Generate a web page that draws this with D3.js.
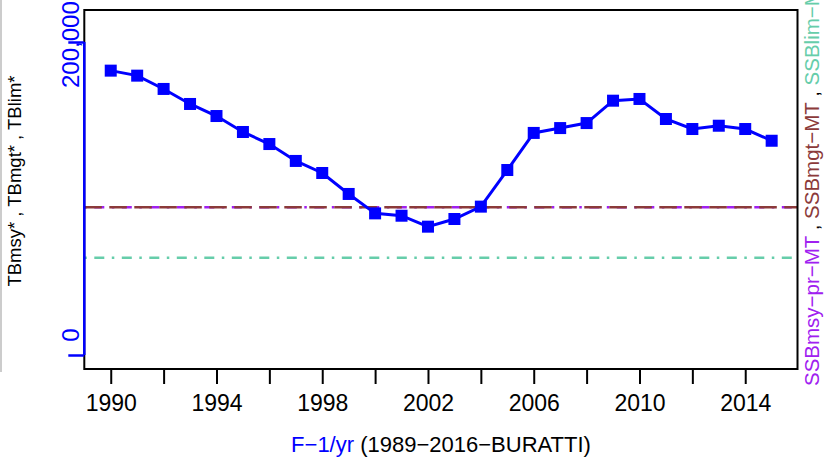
<!DOCTYPE html>
<html><head><meta charset="utf-8">
<script src="https://cdn.jsdelivr.net/npm/d3@7"></script>
<style>body{margin:0;background:#fff}svg{display:block}text{font-family:"Liberation Sans",Arial,Helvetica,sans-serif}</style>
</head><body><svg id="c" width="833" height="464"></svg>
<script>
const years = [1990,1991,1992,1993,1994,1995,1996,1997,1998,1999,2000,2001,2002,2003,2004,2005,2006,2007,2008,2009,2010,2011,2012,2013,2014,2015];
const biomass = [181700,178500,170000,160400,152700,142500,134800,124000,116300,102900,90500,89000,82000,86900,94800,118200,141900,145000,148200,162500,163600,150800,144400,146500,144400,136900];
const refMsy = 94400, refMgt = 94400, refLim = 62200;
const xTicks = [1990,1992,1994,1996,1998,2000,2002,2004,2006,2008,2010,2012,2014];
const xLabels = [1990,1994,1998,2002,2006,2010,2014];
const yTicks = [0,200000];

const svg = d3.select("#c");
const L=84.3, R=797.5, T=10, B=369;
const x = d3.scaleLinear().domain([1989,2016]).range([L,R+0.6]);
const y = d3.scaleLinear().domain([0,200000]).range([355,42]);

svg.append("line").attr("x1",1).attr("x2",1).attr("y1",0).attr("y2",372).attr("stroke","#999").attr("stroke-width",1);

function href(v,col,dash,w){svg.append("line").attr("x1",L).attr("x2",R).attr("y1",y(v)).attr("y2",y(v))
  .attr("stroke",col).attr("stroke-width",w).attr("stroke-dasharray",dash);}
href(refLim,"#66CDAA","2.5,7.5,10,7.5",2.5);
href(refMsy,"#A020F0","2.5,7.5,10,7.5",2.5);
href(refMgt,"#8B3A3A","17.5,7.5",2.5);

svg.append("rect").attr("x",L).attr("y",T).attr("width",R-L).attr("height",B-T).attr("fill","none").attr("stroke","#000").attr("stroke-width",2);

const line = d3.line().x((d,i)=>x(years[i])).y(d=>y(d));
svg.append("path").datum(biomass).attr("d",line).attr("fill","none").attr("stroke","#0000FF").attr("stroke-width",3);
svg.selectAll("rect.pt").data(biomass).enter().append("rect").attr("class","pt")
  .attr("x",(d,i)=>x(years[i])-6).attr("y",d=>y(d)-6).attr("width",12).attr("height",12).attr("fill","#0000FF");

const xa = svg.append("g").attr("transform",`translate(0,${B})`)
  .call(d3.axisBottom(x).tickValues(xTicks).tickSize(15).tickFormat(d=>xLabels.includes(d)?String(d):""));
xa.select(".domain").remove();
xa.selectAll(".tick line").attr("stroke","#000").attr("stroke-width",2);
xa.selectAll(".tick text").attr("font-size",23).attr("fill","#000").attr("dy",0).attr("y",42);

const ya = svg.append("g").attr("transform",`translate(${L},0)`)
  .call(d3.axisLeft(y).tickValues(yTicks).tickSize(16).tickFormat(d3.format(",")));
ya.select(".domain").attr("stroke","#0000FF").attr("stroke-width",2.5).attr("d",`M0,${y(200000)}V${y(0)}`);
ya.selectAll(".tick line").attr("stroke","#0000FF").attr("stroke-width",2.5);
ya.selectAll(".tick text").remove();
svg.append("text").attr("transform",`translate(79,${335}) rotate(-90)`).attr("text-anchor","middle")
  .attr("font-size",24).attr("fill","#0000FF").text(d3.format(",")(yTicks[0]));
svg.append("text").attr("transform",`translate(79,${88}) rotate(-90)`).attr("text-anchor","start")
  .attr("font-size",24).attr("fill","#0000FF").text(d3.format(",")(yTicks[1]));

svg.append("text").attr("transform","translate(21,181) rotate(-90)").attr("text-anchor","middle")
  .attr("font-size",18.5).attr("fill","#000").text("TBmsy* , TBmgt* , TBlim*");

const xt = svg.append("text").attr("x",441).attr("y",452).attr("text-anchor","middle").attr("font-size",22);
xt.append("tspan").attr("fill","#0000FF").text("F\u22121/yr");
xt.append("tspan").attr("fill","#000").text(" (1989\u22122016\u2212BURATTI)");

const rt = svg.append("text").attr("transform","translate(819,386) rotate(-90)").attr("text-anchor","start").attr("font-size",20.5);
rt.append("tspan").attr("fill","#A020F0").text("SSBmsy\u2212pr\u2212MT");
rt.append("tspan").attr("fill","#000").text(" , ");
rt.append("tspan").attr("fill","#8B3A3A").text("SSBmgt\u2212MT");
rt.append("tspan").attr("fill","#000").text(" , ");
rt.append("tspan").attr("fill","#66CDAA").text("SSBlim\u2212MT");
</script></body></html>
